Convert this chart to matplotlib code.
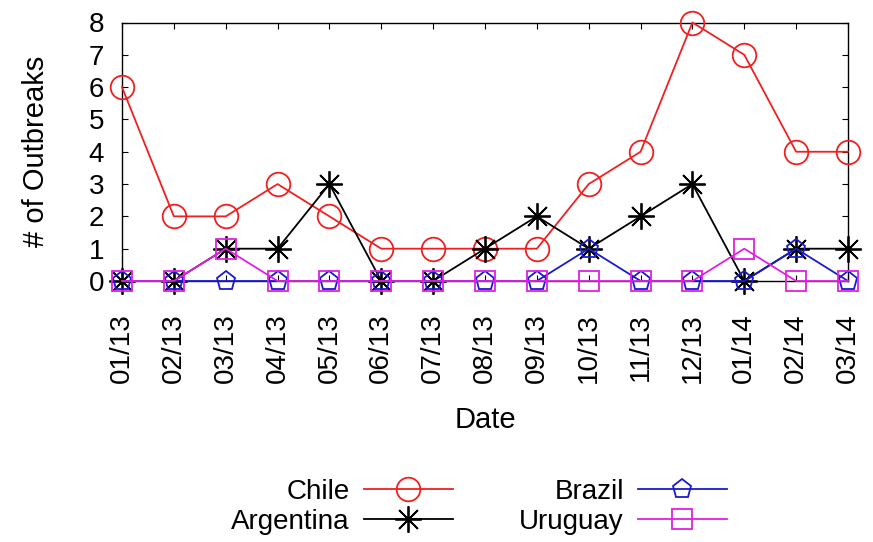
import matplotlib
matplotlib.use("Agg")
import matplotlib.pyplot as plt

dates = ["01/13", "02/13", "03/13", "04/13", "05/13", "06/13", "07/13", "08/13",
         "09/13", "10/13", "11/13", "12/13", "01/14", "02/14", "03/14"]
chile = [6, 2, 2, 3, 2, 1, 1, 1, 1, 3, 4, 8, 7, 4, 4]
argentina = [0, 0, 1, 1, 3, 0, 0, 1, 2, 1, 2, 3, 0, 1, 1]
brazil = [0, 0, 0, 0, 0, 0, 0, 0, 0, 1, 0, 0, 0, 1, 0]
uruguay = [0, 0, 1, 0, 0, 0, 0, 0, 0, 0, 0, 0, 1, 0, 0]

plt.rcParams['font.family'] = ['Liberation Sans', 'DejaVu Sans']
FS = 20

W, H = 873, 542
fig = plt.figure(figsize=(W / 100, H / 100), dpi=100)
ax = fig.add_axes([122 / W, 1 - 281 / H, (848 - 122) / W, (281 - 22.5) / H])

x = list(range(len(dates)))
lw = 1.3
ax.plot(x, chile, color='#f02020', lw=lw, marker='o', ms=17, mfc='none', mew=1.3,
        label='Chile', clip_on=False, zorder=3)
ax.plot(x, argentina, color='black', lw=lw, marker=(8, 2, 0), ms=19, mew=1.3,
        label='Argentina', clip_on=False, zorder=4)
ax.plot(x, brazil, color='#1a1ad0', lw=lw, marker='p', ms=14, mfc='none', mew=1.3,
        label='Brazil', clip_on=False, zorder=5)
ax.plot(x, uruguay, color='#e020e0', lw=lw, marker='s', ms=15, mfc='none', mew=1.3,
        label='Uruguay', clip_on=False, zorder=6)

ax.set_xlim(0, len(dates) - 1)
ax.set_ylim(0, 8)
ax.set_yticks(range(0, 9))
ax.set_xticks(x)
ax.set_xticklabels(dates, rotation=90)
ax.tick_params(axis='both', direction='in', length=4, width=0.8, top=True, right=True,
               labelsize=FS)
ax.tick_params(axis='y', pad=13)
ax.tick_params(axis='x', pad=23)
for s in ax.spines.values():
    s.set_linewidth(1.0)

ax.set_xlabel('Date', fontsize=21, labelpad=17)
ax.set_ylabel('# of Outbreaks', fontsize=21, labelpad=28)

leg = fig.legend(loc='center', bbox_to_anchor=((236 + 722) / 2 / W, 1 - 507 / H),
                 ncol=2, markerfirst=False, frameon=False, fontsize=FS,
                 handlelength=3.2, handletextpad=0.5, columnspacing=2.4,
                 labelspacing=0.15, borderpad=0)

fig.savefig('out.png', dpi=100)
